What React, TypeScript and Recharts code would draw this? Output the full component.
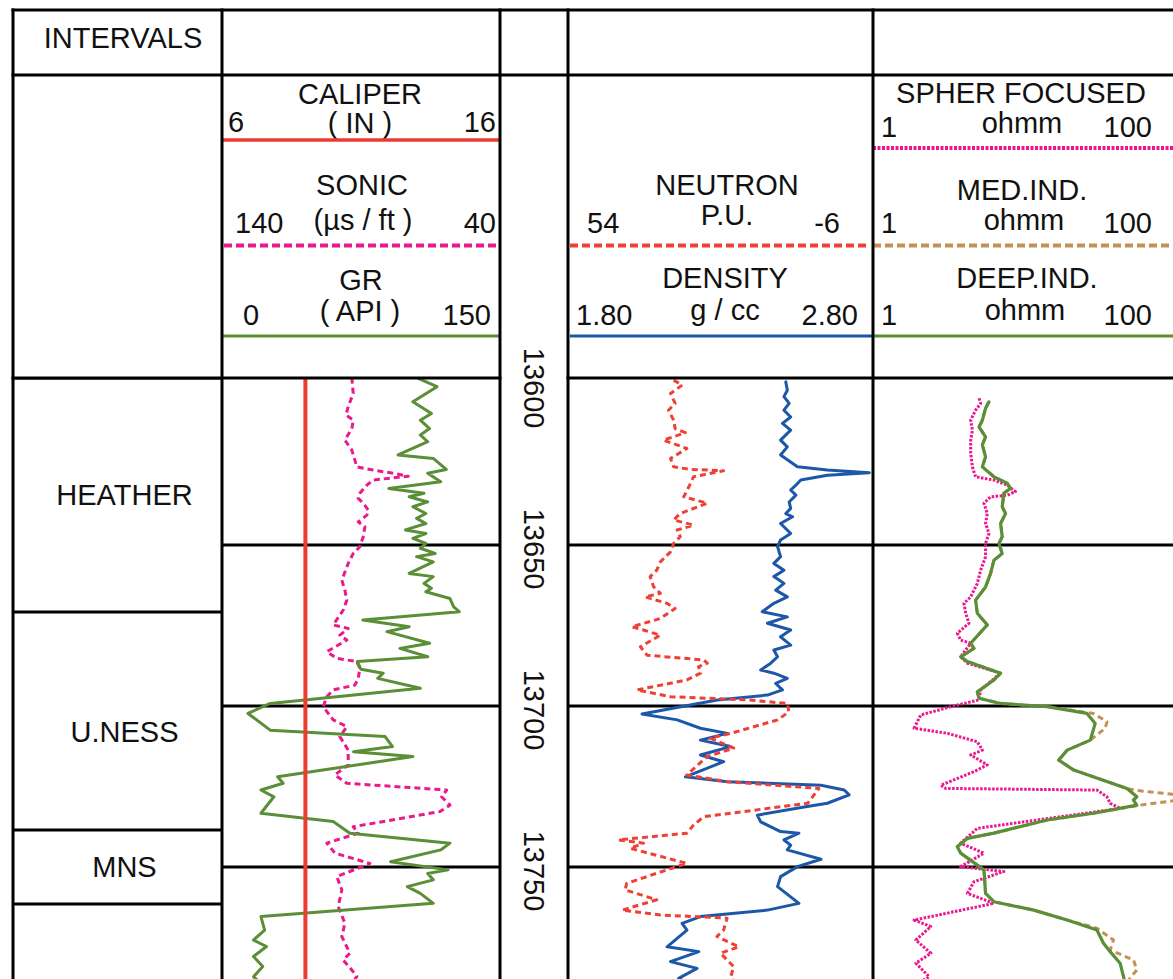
import React from "react";
import { LineChart, Line, XAxis, YAxis, ReferenceLine, ReferenceArea } from "recharts";

type Pt = [number, number];

const FONT = '"Liberation Sans", Arial, Helvetica, sans-serif';
const INK = "#111";

// ---------- depth window & ticks ----------
const DEPTH_DOMAIN: [number, number] = [13598.1, 13784.8];
const DEPTH_TICKS = [13600, 13650, 13700, 13750];
const GRID_DEPTHS = [13650, 13700, 13750];

// ---------- intervals ----------
const INTERVAL_NAMES = ["HEATHER", "U.NESS", "MNS", ""];
const INTERVAL_TOPS = [13598.1, 13670.8, 13738.5, 13761.5];
const INTERVAL_BASES = [13670.8, 13738.5, 13761.5, 13784.8];

// ---------- scales ----------
const CALIPER_RANGE: [number, number] = [6, 16];
const SONIC_RANGE: [number, number] = [40, 140];
const GR_RANGE: [number, number] = [0, 150];
const NEUTRON_RANGE: [number, number] = [-6, 54];
const DENSITY_RANGE: [number, number] = [1.8, 2.8];
const RES_RANGE: [number, number] = [1, 100];

// ---------- curves: [depth ft, value] ----------
const CALIPER: Pt[] = [
  [13596, 9.0], [13650, 9.0], [13700, 9.0], [13750, 9.0], [13790, 9.0],
];

const GR: Pt[] = [
  [13598, 105], [13600.8, 116], [13605.5, 103], [13609.1, 113], [13611.2, 107], [13613.8, 112],
  [13615.8, 107], [13617.9, 111], [13622.0, 95], [13623.1, 114], [13626.5, 121], [13627.7, 111],
  [13630.3, 118], [13632.4, 90], [13633.9, 109], [13635.0, 101], [13636.6, 111], [13638.1, 103],
  [13640.2, 110], [13641.7, 105], [13643.3, 110], [13645.3, 99], [13646.4, 110], [13647.9, 103],
  [13649.5, 110], [13651.0, 107], [13652.6, 115], [13653.6, 105], [13655.2, 114], [13658.8, 101],
  [13659.8, 114], [13661.9, 109], [13663.4, 113], [13664.5, 110], [13666.6, 123], [13669.2, 125],
  [13670.7, 128], [13673.3, 76], [13675.4, 101], [13676.9, 89], [13680.5, 112], [13682.1, 96],
  [13684.7, 111], [13686.2, 73], [13688.6, 75], [13689.8, 87], [13691.4, 84], [13694.5, 107],
  [13699.2, 26], [13702.3, 14], [13707.5, 26], [13709.5, 88], [13712.6, 92], [13714.2, 71],
  [13715.7, 103], [13722.0, 30], [13724.0, 33], [13726.1, 21], [13728.2, 28], [13733.3, 21],
  [13735.9, 60], [13739.5, 69], [13742.6, 123], [13744.7, 118], [13748.4, 91], [13750.9, 122],
  [13752.0, 111], [13754.0, 114], [13756.1, 100], [13758.2, 107], [13761.3, 114], [13765.4, 21],
  [13769.6, 23], [13772.7, 17], [13774.7, 24], [13777.8, 17], [13780.9, 22], [13784.1, 17],
  [13786.6, 22],
];

const SONIC: Pt[] = [
  [13598, 93.3], [13602.9, 92.8], [13607.0, 94.6], [13609.6, 95.4], [13611.2, 92.8], [13613.8, 93.3],
  [13617.4, 95.8], [13620.5, 93.3], [13623.6, 92.2], [13625.7, 91.5], [13626.7, 85.6], [13627.7, 78.4],
  [13628.6, 73.0], [13629.0, 77.2], [13629.8, 85.6], [13631.4, 87.9], [13633.9, 90.4], [13635.5, 91.0],
  [13637.0, 89.2], [13639.1, 87.4], [13640.7, 87.9], [13642.8, 91.0], [13644.3, 88.6], [13647.4, 89.2],
  [13650.5, 90.4], [13652.6, 92.8], [13655.7, 94.6], [13660.9, 96.9], [13664.0, 95.8], [13667.1, 95.1],
  [13670.2, 96.4], [13674.8, 100.0], [13675.9, 94.6], [13678.0, 97.6], [13679.5, 95.1], [13683.1, 102.3],
  [13685.2, 98.7], [13686.2, 91.5], [13688.3, 90.4], [13691.4, 91.0], [13693.5, 92.2], [13695.0, 100.0],
  [13697.1, 102.3], [13700.2, 103.6], [13704.3, 100.0], [13706.4, 95.1], [13709.5, 97.6], [13713.7, 94.6],
  [13718.3, 94.6], [13721.4, 99.4], [13724.0, 95.1], [13726.1, 59.2], [13728.2, 61.0], [13730.8, 58.0],
  [13732.8, 61.6], [13737.5, 92.8], [13739.5, 91.0], [13742.6, 102.3], [13745.7, 99.4], [13748.9, 86.8],
  [13753.0, 98.7], [13757.1, 96.9], [13762.3, 98.2], [13767.5, 95.8], [13771.6, 96.9], [13776.8, 94.0],
  [13778.9, 96.4], [13782.0, 93.3], [13784.0, 91.5], [13786.0, 93.0],
];

const NEUTRON: Pt[] = [
  [13598.8, 33.1], [13600.3, 31.4], [13602.9, 33.7], [13606.0, 32.8], [13608.1, 34.1], [13611.2, 33.1],
  [13613.8, 32.8], [13615.1, 30.8], [13617.4, 35.1], [13620.0, 30.5], [13623.1, 33.7], [13625.7, 33.1],
  [13626.5, 29.8], [13626.9, 23.3], [13628.8, 29.2], [13631.9, 30.1], [13635.0, 31.1], [13637.0, 26.5],
  [13640.2, 31.8], [13642.2, 33.1], [13643.8, 29.2], [13645.3, 32.4], [13647.4, 31.8], [13649.5, 33.1],
  [13652.1, 33.7], [13655.2, 35.7], [13657.8, 36.4], [13659.8, 37.7], [13663.0, 37.0], [13665.0, 35.7],
  [13666.1, 38.7], [13668.1, 34.4], [13669.7, 32.8], [13672.8, 35.7], [13675.4, 41.3], [13676.4, 39.0],
  [13678.0, 35.7], [13681.6, 39.6], [13684.2, 38.3], [13685.7, 27.2], [13686.7, 26.5], [13687.8, 28.2],
  [13689.8, 27.8], [13691.9, 30.5], [13695.0, 40.3], [13697.1, 33.7], [13698.1, 18.6], [13699.2, 10.8],
  [13701.8, 10.5], [13704.3, 12.7], [13708.5, 21.9], [13710.0, 25.9], [13713.1, 21.3], [13715.7, 26.5],
  [13721.4, 30.5], [13723.5, 22.6], [13725.6, 4.6], [13730.2, 6.8], [13734.4, 27.2], [13737.0, 29.2],
  [13739.5, 30.5], [13741.6, 43.9], [13742.6, 39.0], [13744.2, 41.6], [13748.9, 30.5], [13750.9, 34.4],
  [13755.1, 42.3], [13757.1, 42.6], [13760.2, 36.4], [13763.4, 43.2], [13764.9, 35.7], [13765.9, 22.6],
  [13769.6, 23.3], [13771.6, 24.6], [13774.8, 20.3], [13776.8, 23.9], [13781.0, 21.3], [13784.1, 21.9],
  [13786.0, 21.0],
];

const DENSITY: Pt[] = [
  [13599.3, 2.515], [13601.9, 2.52], [13603.9, 2.509], [13606.0, 2.526], [13608.1, 2.509], [13610.2, 2.531],
  [13612.2, 2.504], [13614.3, 2.531], [13617.4, 2.498], [13619.5, 2.52], [13622.0, 2.498], [13625.7, 2.553],
  [13626.7, 2.651], [13627.5, 2.788], [13628.3, 2.651], [13629.8, 2.564], [13631.4, 2.548], [13632.9, 2.531],
  [13634.5, 2.548], [13636.6, 2.526], [13638.6, 2.531], [13640.2, 2.515], [13641.2, 2.537], [13643.3, 2.498],
  [13646.4, 2.531], [13648.4, 2.498], [13650.5, 2.488], [13653.6, 2.498], [13655.7, 2.476], [13657.8, 2.509],
  [13659.8, 2.476], [13661.9, 2.509], [13664.0, 2.482], [13666.1, 2.52], [13668.1, 2.476], [13670.7, 2.438],
  [13672.3, 2.52], [13674.3, 2.455], [13676.4, 2.531], [13678.5, 2.498], [13681.1, 2.531], [13682.6, 2.476],
  [13684.7, 2.488], [13686.7, 2.466], [13688.8, 2.433], [13689.8, 2.476], [13691.4, 2.52], [13693.0, 2.482],
  [13695.0, 2.504], [13696.6, 2.455], [13698.1, 2.291], [13702.5, 2.045], [13704.3, 2.16], [13706.9, 2.236],
  [13708.5, 2.324], [13710.6, 2.236], [13712.6, 2.334], [13715.2, 2.236], [13717.3, 2.312], [13722.0, 2.187],
  [13723.5, 2.324], [13724.6, 2.63], [13726.1, 2.706], [13727.6, 2.722], [13730.2, 2.651], [13731.3, 2.58],
  [13733.9, 2.422], [13736.0, 2.433], [13739.0, 2.498], [13739.5, 2.558], [13741.6, 2.509], [13743.2, 2.531],
  [13744.7, 2.52], [13747.6, 2.63], [13749.9, 2.553], [13753.0, 2.498], [13756.1, 2.488], [13761.3, 2.558],
  [13763.4, 2.455], [13765.4, 2.236], [13767.5, 2.176], [13769.6, 2.192], [13774.8, 2.127], [13776.3, 2.231],
  [13779.4, 2.138], [13781.5, 2.225], [13784.6, 2.165], [13786.5, 2.2],
];

const SPHER: Pt[] = [
  [13604.4, 5.09], [13606.0, 5.22], [13608.1, 4.83], [13611.2, 4.48], [13614.3, 4.6], [13617.4, 4.48],
  [13621.5, 4.48], [13625.7, 4.6], [13628.8, 4.83], [13629.8, 6.4], [13631.4, 7.85], [13633.4, 8.91],
  [13634.5, 7.85], [13635.0, 6.08], [13637.0, 5.49], [13640.2, 5.78], [13643.3, 5.63], [13646.4, 5.93],
  [13649.5, 5.63], [13653.6, 5.63], [13657.8, 5.22], [13661.9, 4.96], [13666.1, 4.48], [13668.1, 4.04],
  [13671.2, 4.15], [13674.3, 4.36], [13677.4, 3.65], [13679.5, 3.84], [13680.5, 4.48], [13684.7, 3.84],
  [13686.7, 4.26], [13689.8, 7.09], [13695.0, 5.22], [13698.1, 5.09], [13700.2, 3.3], [13702.8, 2.08],
  [13706.9, 1.88], [13708.5, 3.14], [13711.1, 4.96], [13713.7, 5.36], [13715.2, 4.48], [13718.3, 5.78],
  [13720.4, 4.71], [13724.6, 2.83], [13725.6, 3.06], [13726.1, 31.1], [13728.2, 36.3], [13730.2, 38.1],
  [13731.8, 44.4], [13738.0, 4.96], [13742.6, 3.84], [13745.7, 5.49], [13749.9, 3.84], [13751.4, 7.45],
  [13754.6, 4.71], [13758.2, 4.26], [13761.3, 6.4], [13766.5, 1.88], [13768.5, 2.43], [13772.7, 1.93],
  [13776.8, 2.43], [13779.9, 1.93], [13784.1, 2.37], [13786.0, 2.0],
];

const MED_IND: Pt[] = [
  [13605.5, 5.93], [13607.5, 5.63], [13611.2, 5.36], [13613.3, 5.09], [13616.4, 5.63], [13618.9, 5.36],
  [13622.6, 5.63], [13625.7, 5.36], [13628.8, 6.4], [13630.8, 7.85], [13632.4, 8.26], [13633.9, 7.45],
  [13638.1, 7.27], [13640.2, 7.65], [13643.3, 7.09], [13647.4, 7.27], [13649.5, 6.91], [13652.6, 7.27],
  [13654.7, 6.4], [13658.8, 6.08], [13663.0, 5.63], [13667.1, 4.83], [13671.2, 4.96], [13674.8, 5.78],
  [13680.5, 4.48], [13682.1, 4.71], [13684.7, 3.84], [13686.2, 4.26], [13689.8, 7.09], [13691.9, 6.4],
  [13695.6, 4.96], [13697.6, 5.09], [13699.2, 7.09], [13700.2, 14.5], [13702.3, 29.5], [13704.9, 36.3],
  [13706.9, 35.3], [13710.6, 28.1], [13713.7, 19.7], [13716.8, 17.3], [13719.9, 21.8], [13725.6, 49.3],
  [13726.2, 56], [13727.6, 110], [13729.2, 110], [13730.8, 60.4], [13733.3, 29.5], [13735.4, 14.5],
  [13739.5, 6.4], [13741.1, 4.26], [13743.7, 3.65], [13745.7, 3.84], [13750.9, 5.49], [13758.2, 5.63],
  [13760.8, 6.4], [13763.4, 11.8], [13766.5, 19.7], [13769.0, 31.1], [13772.7, 40.1], [13775.8, 38.1],
  [13778.9, 54.5], [13782.0, 57.4], [13784.5, 51.8], [13786.0, 50],
];

const DEEP_IND: Pt[] = [
  [13605.5, 5.93], [13607.5, 5.63], [13611.2, 5.36], [13613.3, 5.09], [13616.4, 5.63], [13618.9, 5.36],
  [13622.6, 5.63], [13625.7, 5.36], [13628.8, 6.4], [13630.8, 7.85], [13632.4, 8.26], [13633.9, 7.45],
  [13638.1, 7.27], [13640.2, 7.65], [13643.3, 7.09], [13647.4, 7.27], [13649.5, 6.91], [13652.6, 7.27],
  [13654.7, 6.4], [13658.8, 6.08], [13663.0, 5.63], [13667.1, 4.83], [13671.2, 4.96], [13674.8, 5.78],
  [13680.5, 4.48], [13682.1, 4.71], [13684.7, 3.84], [13686.2, 4.26], [13689.8, 7.09], [13691.9, 6.4],
  [13695.6, 4.96], [13697.6, 5.09], [13699.2, 7.09], [13700.2, 14.5], [13702.3, 26.7], [13705.4, 30.3],
  [13710.6, 28.1], [13713.7, 19.7], [13716.8, 17.3], [13719.9, 21.8], [13725.6, 49.3], [13728.2, 57.4],
  [13729.2, 54.5], [13730.8, 57.4], [13733.3, 29.5], [13735.4, 14.5], [13739.5, 6.4], [13741.1, 4.26],
  [13743.7, 3.65], [13745.7, 3.84], [13750.9, 5.49], [13758.2, 5.63], [13760.8, 6.4], [13763.4, 11.8],
  [13766.5, 19.7], [13769.6, 31.1], [13773.7, 34.4], [13776.3, 38.1], [13779.9, 44.4], [13784.1, 46.8],
  [13786.0, 48],
];

// ---------- styles ----------
const C_CAL = "#ee3b2f";
const C_SONIC = "#ea1a8e";
const C_GR = "#5a8e37";
const C_NEU = "#ef4035";
const C_DEN = "#1c57a8";
const C_SPH = "#ec178f";
const C_MED = "#c39252";
const C_DEEP = "#5a8e37";
const LABEL_NUDGE: Record<string, number> = { "U.NESS": 11 };

const rows = (pts: Pt[]) => pts.map(([depth, v]) => ({ depth, v }));
const ZERO = { top: 0, right: 0, bottom: 0, left: 0 };
const DATA_TOP = 378;
const DATA_H = 601;
const HEAD_TOP = 76; // track-1 chart starts here so the depth labels have room above the plot

const DepthTick = (p: any) => {
  const cx = p.x + 34;
  const cy = p.y + 4;
  return (
    <text
      transform={`translate(${cx},${cy}) rotate(90)`}
      x={0}
      y={10.4}
      textAnchor="middle"
      fontSize={29}
      fontFamily={FONT}
      fill={INK}
    >
      {p.payload.value}
    </text>
  );
};

const IntervalLabel = (p: any) => {
  const vb = p.viewBox || {};
  const nudge = LABEL_NUDGE[p.name] || 0;
  return (
    <text
      x={vb.x + vb.width / 2 + 7}
      y={vb.y + vb.height / 2 + 10.4 + nudge}
      textAnchor="middle"
      fontSize={29}
      fontFamily={FONT}
      fill={INK}
    >
      {p.name}
    </text>
  );
};

const gridLines = (xId: string) =>
  GRID_DEPTHS.map((d) => (
    <ReferenceLine key={d} y={d} xAxisId={xId} stroke="#000" strokeWidth={3} ifOverflow="visible" />
  ));

const lineProps = {
  dot: false,
  activeDot: false,
  isAnimationActive: false,
  strokeLinejoin: "round" as const,
  strokeLinecap: "round" as const,
};

type HT = [string, number, number, "start" | "middle" | "end"];
const HEADER_TEXT: HT[] = [
  ["INTERVALS", 123, 48, "middle"],
  ["CALIPER", 360, 104, "middle"],
  ["6", 228, 132, "start"],
  ["( IN )", 360, 133, "middle"],
  ["16", 496, 132, "end"],
  ["SONIC", 362, 195, "middle"],
  ["140", 235, 233, "start"],
  ["(\u00b5s / ft )", 363, 230, "middle"],
  ["40", 496, 233, "end"],
  ["GR", 361, 290, "middle"],
  ["0", 243, 325, "start"],
  ["( API )", 360, 321, "middle"],
  ["150", 491, 325, "end"],
  ["NEUTRON", 727, 195, "middle"],
  ["54", 587, 233, "start"],
  ["P.U.", 727, 225, "middle"],
  ["-6", 840, 233, "end"],
  ["DENSITY", 725, 288, "middle"],
  ["1.80", 576, 325, "start"],
  ["g / cc", 725, 320, "middle"],
  ["2.80", 858, 325, "end"],
  ["SPHER FOCUSED", 1021, 103, "middle"],
  ["1", 881, 137, "start"],
  ["ohmm", 1022, 133, "middle"],
  ["100", 1152, 137, "end"],
  ["MED.IND.", 1022, 200, "middle"],
  ["1", 881, 233, "start"],
  ["ohmm", 1024, 230, "middle"],
  ["100", 1152, 233, "end"],
  ["DEEP.IND.", 1027, 288, "middle"],
  ["1", 881, 325, "start"],
  ["ohmm", 1025, 320, "middle"],
  ["100", 1152, 325, "end"],
];

export default function App() {
  return (
    <div
      style={{
        position: "relative",
        width: 1173,
        height: 979,
        overflow: "hidden",
        background: "#fff",
        fontFamily: FONT,
      }}
    >
      <style>{"body{margin:0;}"}</style>

      {/* header texts & legend lines */}
      <svg width={1173} height={979} style={{ position: "absolute", left: 0, top: 0 }}>
        {HEADER_TEXT.map(([t, x, y, a], i) => (
          <text key={i} x={x} y={y} textAnchor={a} fontSize={29} fontFamily={FONT} fill={INK}>
            {t}
          </text>
        ))}
        <line x1={222} x2={500} y1={140} y2={140} stroke={C_CAL} strokeWidth={3.5} />
        <line x1={224} x2={498} y1={245.5} y2={245.5} stroke={C_SONIC} strokeWidth={4} strokeDasharray="8 4" />
        <line x1={222} x2={500} y1={336} y2={336} stroke={C_GR} strokeWidth={3} />
        <line x1={570} x2={870} y1={245.5} y2={245.5} stroke={C_NEU} strokeWidth={4} strokeDasharray="8 4" />
        <line x1={570} x2={873} y1={336} y2={336} stroke={C_DEN} strokeWidth={3} />
        <line x1={873} x2={1173} y1={148} y2={148} stroke={C_SPH} strokeWidth={4} strokeDasharray="3 1.5" />
        <line x1={873} x2={1173} y1={245.5} y2={245.5} stroke={C_MED} strokeWidth={4} strokeDasharray="8 4" />
        <line x1={873} x2={1173} y1={336} y2={336} stroke={C_DEEP} strokeWidth={3} />
      </svg>

      {/* intervals column */}
      <div style={{ position: "absolute", left: 13, top: DATA_TOP }}>
        <LineChart layout="vertical" width={209} height={DATA_H} margin={ZERO}>
          <XAxis type="number" domain={[0, 1]} hide allowDataOverflow />
          <YAxis type="number" dataKey="depth" domain={DEPTH_DOMAIN} hide allowDataOverflow />
          {INTERVAL_NAMES.map((name, i) => (
            <ReferenceArea
              key={"a" + i}
              x1={0}
              x2={1}
              y1={INTERVAL_TOPS[i]}
              y2={INTERVAL_BASES[i]}
              fill="#fff"
              fillOpacity={0}
              stroke="none"
              ifOverflow="visible"
              label={(p: any) => <IntervalLabel {...p} name={name} />}
            />
          ))}
          {INTERVAL_TOPS.map((d, i) => (
            <ReferenceLine key={"l" + i} y={d} stroke="#000" strokeWidth={3} ifOverflow="visible" />
          ))}
          <Line
            data={rows(INTERVAL_TOPS.map((d) => [d, 0.5] as Pt))}
            dataKey="v"
            stroke="none"
            {...lineProps}
          />
        </LineChart>
      </div>

      {/* track 1: caliper / sonic / GR  + depth column */}
      <div style={{ position: "absolute", left: 222, top: HEAD_TOP }}>
        <LineChart
          layout="vertical"
          width={346}
          height={DATA_TOP - HEAD_TOP + DATA_H}
          margin={{ top: DATA_TOP - HEAD_TOP, right: 0, bottom: 0, left: 0 }}
        >
          <XAxis xAxisId="cal" type="number" domain={CALIPER_RANGE} hide allowDataOverflow />
          <XAxis xAxisId="sonic" type="number" domain={SONIC_RANGE} reversed hide allowDataOverflow />
          <XAxis xAxisId="gr" type="number" domain={GR_RANGE} hide allowDataOverflow />
          <YAxis
            type="number"
            dataKey="depth"
            domain={DEPTH_DOMAIN}
            allowDataOverflow
            orientation="right"
            width={68}
            ticks={DEPTH_TICKS}
            interval={0}
            tick={(p: any) => <DepthTick {...p} />}
            tickSize={0}
            tickMargin={0}
            axisLine={false}
            tickLine={false}
          />
          {gridLines("gr")}
          <Line data={rows(SONIC)} dataKey="v" xAxisId="sonic" stroke={C_SONIC} strokeWidth={3} strokeDasharray="6 4" {...lineProps} strokeLinecap="butt" />
          <Line data={rows(GR)} dataKey="v" xAxisId="gr" stroke={C_GR} strokeWidth={3} {...lineProps} />
          <Line data={rows(CALIPER)} dataKey="v" xAxisId="cal" stroke={C_CAL} strokeWidth={4} {...lineProps} strokeLinecap="butt" />
        </LineChart>
      </div>

      {/* track 2: neutron / density */}
      <div style={{ position: "absolute", left: 567, top: DATA_TOP }}>
        <LineChart layout="vertical" width={306} height={DATA_H} margin={ZERO}>
          <XAxis xAxisId="neu" type="number" domain={NEUTRON_RANGE} reversed hide allowDataOverflow />
          <XAxis xAxisId="den" type="number" domain={DENSITY_RANGE} hide allowDataOverflow />
          <YAxis type="number" dataKey="depth" domain={DEPTH_DOMAIN} hide allowDataOverflow />
          {gridLines("den")}
          <Line data={rows(DENSITY)} dataKey="v" xAxisId="den" stroke={C_DEN} strokeWidth={3} {...lineProps} />
          <Line data={rows(NEUTRON)} dataKey="v" xAxisId="neu" stroke={C_NEU} strokeWidth={3} strokeDasharray="6 4" {...lineProps} strokeLinecap="butt" />
        </LineChart>
      </div>

      {/* track 3: resistivity (log) */}
      <div style={{ position: "absolute", left: 873, top: DATA_TOP }}>
        <LineChart layout="vertical" width={300} height={DATA_H} margin={ZERO}>
          <XAxis xAxisId="res" type="number" scale="log" domain={RES_RANGE} hide allowDataOverflow />
          <YAxis type="number" dataKey="depth" domain={DEPTH_DOMAIN} hide allowDataOverflow />
          {gridLines("res")}
          <Line data={rows(SPHER)} dataKey="v" xAxisId="res" stroke={C_SPH} strokeWidth={3} strokeDasharray="2.5 1.5" {...lineProps} strokeLinecap="butt" />
          <Line data={rows(MED_IND)} dataKey="v" xAxisId="res" stroke={C_MED} strokeWidth={3} strokeDasharray="6 4" {...lineProps} strokeLinecap="butt" />
          <Line data={rows(DEEP_IND)} dataKey="v" xAxisId="res" stroke={C_DEEP} strokeWidth={3.2} {...lineProps} />
        </LineChart>
      </div>

      {/* table frame */}
      <svg width={1173} height={979} style={{ position: "absolute", left: 0, top: 0, pointerEvents: "none" }}>
        <g stroke="#000" strokeWidth={3} strokeLinecap="square">
          <line x1={13} x2={1173} y1={10} y2={10} />
          <line x1={13} x2={1173} y1={75} y2={75} />
          <line x1={13} x2={500} y1={378} y2={378} />
          <line x1={568} x2={1173} y1={378} y2={378} />
          <line x1={13} x2={13} y1={10} y2={979} />
          <line x1={222} x2={222} y1={10} y2={979} />
          <line x1={500} x2={500} y1={10} y2={979} />
          <line x1={568} x2={568} y1={10} y2={979} />
          <line x1={873} x2={873} y1={10} y2={979} />
        </g>
      </svg>
    </div>
  );
}
